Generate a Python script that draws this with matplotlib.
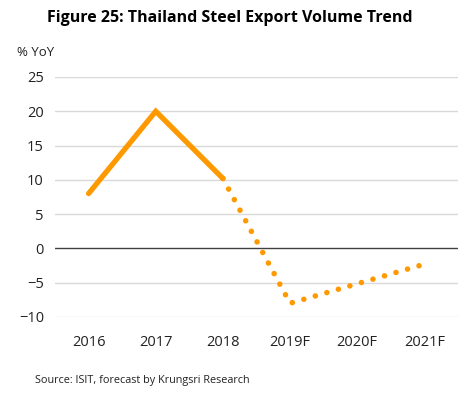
import matplotlib
matplotlib.use("Agg")
import matplotlib.pyplot as plt

categories = ["2016", "2017", "2018", "2019F", "2020F", "2021F"]
actual_values = [8.0, 20.0, 10.2]
forecast_cats = ["2018", "2019F", "2021F"]
forecast_values = [10.2, -8.0, -2.3]
yticks = [-10, -5, 0, 5, 10, 15, 20, 25]

plt.rcParams['font.family'] = ['Open Sans', 'DejaVu Sans']
fig = plt.figure(figsize=(4.6, 3.94), dpi=100)
ax = fig.add_axes([55/460, 1-317/394, (458-55)/460, (317-77)/394])

idx = {c: i for i, c in enumerate(categories)}
color = "#FF9900"
ax.plot([idx[c] for c in categories[:3]], actual_values, color=color, lw=3.8,
        solid_capstyle='round', solid_joinstyle='miter', zorder=3)
ax.plot([idx[c] for c in forecast_cats], forecast_values, color=color, lw=4.0,
        linestyle=(0, (0.01, 2.15)), dash_capstyle='round', zorder=3)

ax.set_xlim(-0.5, 5.5)
ax.set_ylim(-10, 25)
ax.set_yticks(yticks)
ax.set_xticks(range(len(categories)))
ax.set_xticklabels(categories)
for y in yticks:
    if y == 0:
        ax.axhline(y, color="#404040", lw=1.0, zorder=2)
    else:
        ax.axhline(y, color="#d9d9d9", lw=1.0, zorder=1)
for s in ax.spines.values():
    s.set_visible(False)
ax.tick_params(length=0, labelsize=10.5, colors="#222222")
ax.tick_params(axis='x', pad=13)
ax.tick_params(axis='y', pad=8)

fig.text(0.5, 1-18/394, "Figure 25: Thailand Steel Export Volume Trend", ha='center', va='center',
         fontsize=11.5, fontweight='bold')
fig.text(17/460, 1-53/394, "% YoY", ha='left', va='center', fontsize=9.5, color="#222222")
fig.text(35/460, 1-380/394, "Source: ISIT, forecast by Krungsri Research", ha='left', va='center',
         fontsize=7.8, color="#222222")

fig.savefig("out.png", dpi=100)
